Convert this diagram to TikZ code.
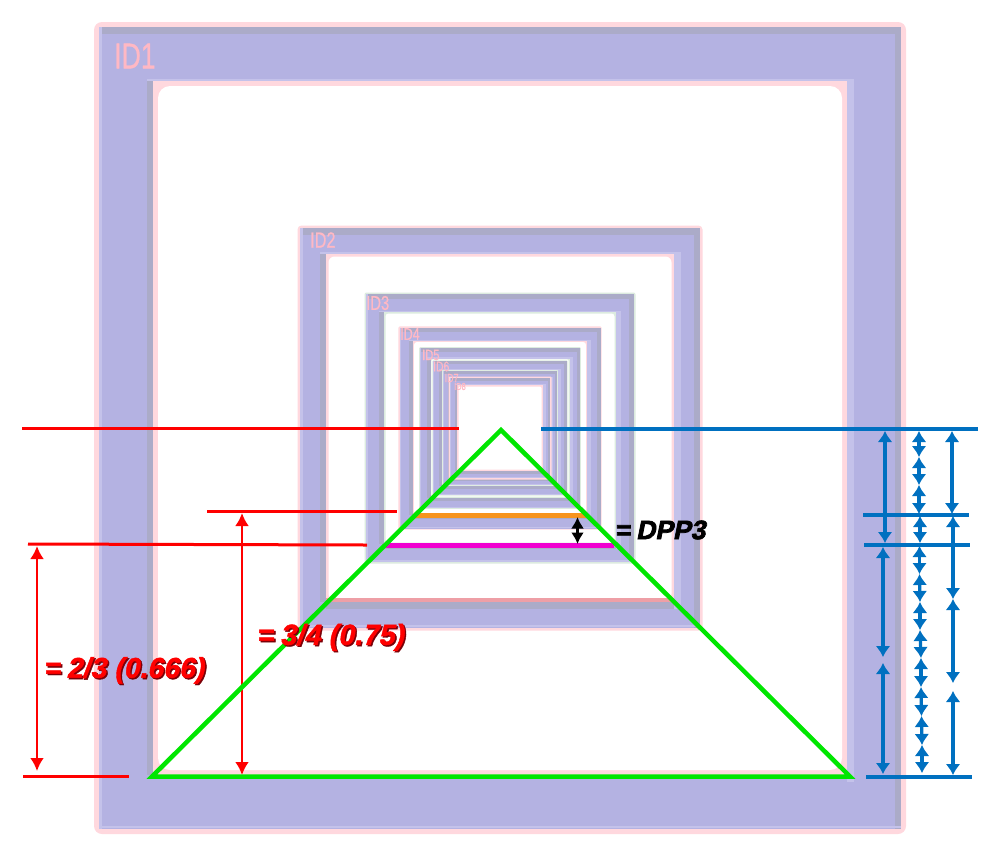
\documentclass[tikz,border=0pt]{standalone}
\usepackage{fontspec}
\setmainfont{Liberation Sans}
\newfontfamily\heavyfont[FakeBold=1.5,FakeSlant=0.2]{Liberation Sans Bold}
\newfontfamily\heavyupfont[FakeBold=1.5]{Liberation Sans Bold}
\newfontfamily\blackfont[FakeBold=2.8,FakeSlant=0.2]{Liberation Sans Bold}
\newfontfamily\blackupfont[FakeBold=2.8]{Liberation Sans Bold}
\newfontfamily\idfont[FakeBold=0.8]{Liberation Sans}
\usetikzlibrary{arrows.meta}
\definecolor{lilac}{HTML}{B4B2E2}
\definecolor{bandgray}{HTML}{ABABC8}
\definecolor{bandlight}{HTML}{C4C2EA}
\definecolor{edgepink}{HTML}{FFD8DE}
\definecolor{edgemint}{HTML}{DCEBDF}
\definecolor{edgered}{HTML}{EE9FA6}
\definecolor{idpink}{HTML}{FFB8C4}
\definecolor{ourblue}{HTML}{0070C0}
\definecolor{ourgreen}{HTML}{00E600}
\definecolor{ourorange}{HTML}{F7941D}
\definecolor{ourmagenta}{HTML}{F000D0}
\definecolor{darkred}{HTML}{7A0008}
\tikzset{
  redline/.style={draw=red,line width=3pt},
  redarrow/.style={draw=red,line width=2.8pt,{Latex[length=13pt,width=14pt]}-{Latex[length=13pt,width=14pt]}},
  blueline/.style={draw=ourblue,line width=3.2pt},
  bluearrow/.style={draw=ourblue,line width=3.2pt,{Latex[length=11pt,width=15pt]}-{Latex[length=11pt,width=15pt]}},
  blackarrow/.style={draw=black,line width=2.5pt,{Latex[length=11.5pt,width=13pt]}-{Latex[length=11.5pt,width=13pt]}},
  idlabel/.style={text=idpink,inner sep=0pt,anchor=west},
  emboss/.style={inner sep=0pt,anchor=west},
}
% #1 outer half, #2 hole half, #3 band thickness, #4 edge colour, #5 edge width, #6 corner radius
\newcommand{\idframe}[6]{
  \fill[#4,rounded corners=#6] (500-#1-#5,428-#1-#5) rectangle (500+#1+#5,428+#1+#5);
  \fill[lilac] (500-#1,428-#1) rectangle (500+#1,428+#1);
  \fill[bandgray] (500-#1,428-#1) rectangle (500+#1,428-#1+#3);
  \fill[bandgray] (500+#1-#3,428-#1) rectangle (500+#1,428+#1);
  \fill[bandlight] (500-#1,428-#1) rectangle (500-#1+0.4*#3,428+#1);
  \fill[bandlight] (500-#1,428+#1-0.4*#3) rectangle (500+#1,428+#1-0.1*#3);
  \fill[bandgray] (500-#2-#3,428-#2) rectangle (500-#2,428+#2);
  \fill[bandlight] (500-#2-#3,428-#2-0.3*#3) rectangle (500+#2+#3,428-#2);
  \fill[bandlight] (500+#2,428-#2-0.3*#3) rectangle (500+#2+#3,428+#2+#3);
  \fill[bandgray] (500-#2,428+#2) rectangle (500+#2,428+#2+#3);
  \fill[#4] (500-#2,428-#2) rectangle (500+#2,428+#2);
  \fill[white,rounded corners=1.5*#6] (500-#2+#5,428-#2+#5) rectangle (500+#2-#5,428+#2-#5);
}
\newcommand{\idtext}[2]{\fontsize{#1}{#1}\idfont\scalebox{0.74}[1]{#2}}
\newcommand{\embossed}[4]{\fontsize{#1}{#1}\selectfont
  \rlap{\kern1.4pt\raisebox{-1.4pt}{\textcolor{darkred}{\heavyupfont #3\heavyfont #4}}}%
  \textcolor{#2}{\heavyupfont #3\heavyfont #4}}
\begin{document}
\begin{tikzpicture}[x=1pt,y=-1pt]
\useasboundingbox (0,0) rectangle (1000,865);
\fill[white] (0,0) rectangle (1000,865);
% nested frames
\idframe{401}{347}{6.5}{edgepink}{5}{8}
\fill[lilac] (500-347,775) rectangle (500+347,782);
\idframe{200}{174}{6.5}{edgepink}{2.5}{4}
\fill[edgered] (326,598) rectangle (674,602);
\idframe{134}{116}{5}{edgemint}{1.5}{2}
\idframe{100.5}{87}{4}{edgepink}{1.2}{1.5}
\idframe{80}{69.5}{3.5}{edgemint}{0.8}{1}
\idframe{67}{58}{3}{edgemint}{0.7}{1}
\idframe{57}{50}{2.5}{edgemint}{0.7}{1}
\idframe{50}{43}{2.5}{edgepink}{1.5}{1}
% frame labels
\node[idlabel] (id1) at (114,56) {\idtext{36}{ID1}};
\node[idlabel] (id2) at (310,240) {\idtext{22}{ID2}};
\node[idlabel] (id3) at (366,303) {\idtext{20}{ID3}};
\node[idlabel] (id4) at (400,334) {\idtext{17}{ID4}};
\node[idlabel] (id5) at (422,355) {\idtext{15}{ID5}};
\node[idlabel] (id6) at (433,366.5) {\idtext{14}{ID6}};
\node[idlabel] (id7) at (444.5,378) {\idtext{12}{ID7}};
\node[idlabel] (id8) at (454,386.5) {\idtext{10}{ID8}};
% red guide lines
\coordinate (ra1) at (22,428);   \coordinate (ra2) at (459,428);
\coordinate (rb1) at (207,511);  \coordinate (rb2) at (397,511);
\coordinate (rc1) at (28,544);   \coordinate (rc2) at (367,545);
\coordinate (rd1) at (23,776);   \coordinate (rd2) at (129,776);
\draw[redline] (ra1) -- (ra2);
\draw[redline] (rb1) -- (rb2);
\draw[redline] (rc1) -- (rc2);
\draw[redline] (rd1) -- (rd2);
\coordinate (re1) at (37,546);   \coordinate (re2) at (37,771);
\coordinate (rf1) at (242,513);  \coordinate (rf2) at (242,775);
\draw[redarrow] (re1) -- (re2);
\draw[redarrow] (rf1) -- (rf2);
% blue guide lines
\coordinate (ba1) at (541,429);  \coordinate (ba2) at (978,429);
\coordinate (bb1) at (863,515);  \coordinate (bb2) at (969,515);
\coordinate (bc1) at (864,545);  \coordinate (bc2) at (970,545);
\coordinate (bd1) at (866,777);  \coordinate (bd2) at (972,777);
\draw[blueline] (ba1) -- (ba2);
\draw[blueline] (bb1) -- (bb2);
\draw[blueline] (bc1) -- (bc2);
\draw[blueline] (bd1) -- (bd2);
% blue column A
\coordinate (a0) at (885,431); \coordinate (a1) at (885,543);
\coordinate (a2) at (883,547); \coordinate (a3) at (883,657);
\coordinate (a4) at (883,663); \coordinate (a5) at (883,774);
\draw[bluearrow] (a0) -- (a1);
\draw[bluearrow] (a2) -- (a3);
\draw[bluearrow] (a4) -- (a5);
% blue column B
\coordinate (u0) at (919,431); \coordinate (u1) at (919,457);
\coordinate (u2) at (919,485); \coordinate (u3) at (919,514);
\coordinate (u4) at (920,516); \coordinate (u5) at (920,543);
\draw[bluearrow] (u0) -- (u1);
\draw[bluearrow] (u1) -- (u2);
\draw[bluearrow] (u2) -- (u3);
\draw[bluearrow] (u4) -- (u5);
\coordinate (v0) at (919.5,546); \coordinate (v1) at (919.5,574);
\coordinate (v2) at (920,602);   \coordinate (v3) at (920,630);
\coordinate (v4) at (921,658);   \coordinate (v5) at (921,687);
\coordinate (v6) at (921.5,716); \coordinate (v7) at (922,745);
\coordinate (v8) at (922,773);
\draw[bluearrow] (v0) -- (v1);
\draw[bluearrow] (v1) -- (v2);
\draw[bluearrow] (v2) -- (v3);
\draw[bluearrow] (v3) -- (v4);
\draw[bluearrow] (v4) -- (v5);
\draw[bluearrow] (v5) -- (v6);
\draw[bluearrow] (v6) -- (v7);
\draw[bluearrow] (v7) -- (v8);
% blue column C
\coordinate (c0) at (952,431); \coordinate (c1) at (952,514);
\coordinate (c2) at (953,516); \coordinate (c3) at (953,599);
\coordinate (c4) at (953,683); \coordinate (c5) at (953,691);
\coordinate (c6) at (953,775);
\draw[bluearrow] (c0) -- (c1);
\draw[bluearrow] (c2) -- (c3);
\draw[bluearrow] (c3) -- (c4);
\draw[bluearrow] (c5) -- (c6);
% orange and magenta bars
\coordinate (o1) at (415,515.5); \coordinate (o2) at (586,515.5);
\coordinate (m1) at (386,545.5); \coordinate (m2) at (614,545.5);
\draw[draw=ourorange,line width=4.5pt] (o1) -- (o2);
\draw[draw=ourmagenta,line width=4.5pt] (m1) -- (m2);
% green triangle
\coordinate (g1) at (501,430); \coordinate (g2) at (850,776.5); \coordinate (g3) at (152,776.5);
\draw[draw=ourgreen,line width=4.5pt,line join=miter] (g1) -- (g2) -- (g3) -- cycle;
% black arrow
\coordinate (k1) at (577.5,517); \coordinate (k2) at (577.5,544);
\draw[blackarrow] (k1) -- (k2);
% texts
\node[emboss] (t1) at (616,530) {\fontsize{26.5}{26.5}\selectfont\textcolor{black}{\blackupfont =\,\blackfont DPP3}};
\node[emboss] (t2) at (45,671) {\embossed{28.5}{red}{=\,}{2/3 (0.666)}};
\node[emboss] (t3) at (258,638) {\embossed{29}{red}{=\,}{3/4 (0.75)}};
\end{tikzpicture}
\end{document}
